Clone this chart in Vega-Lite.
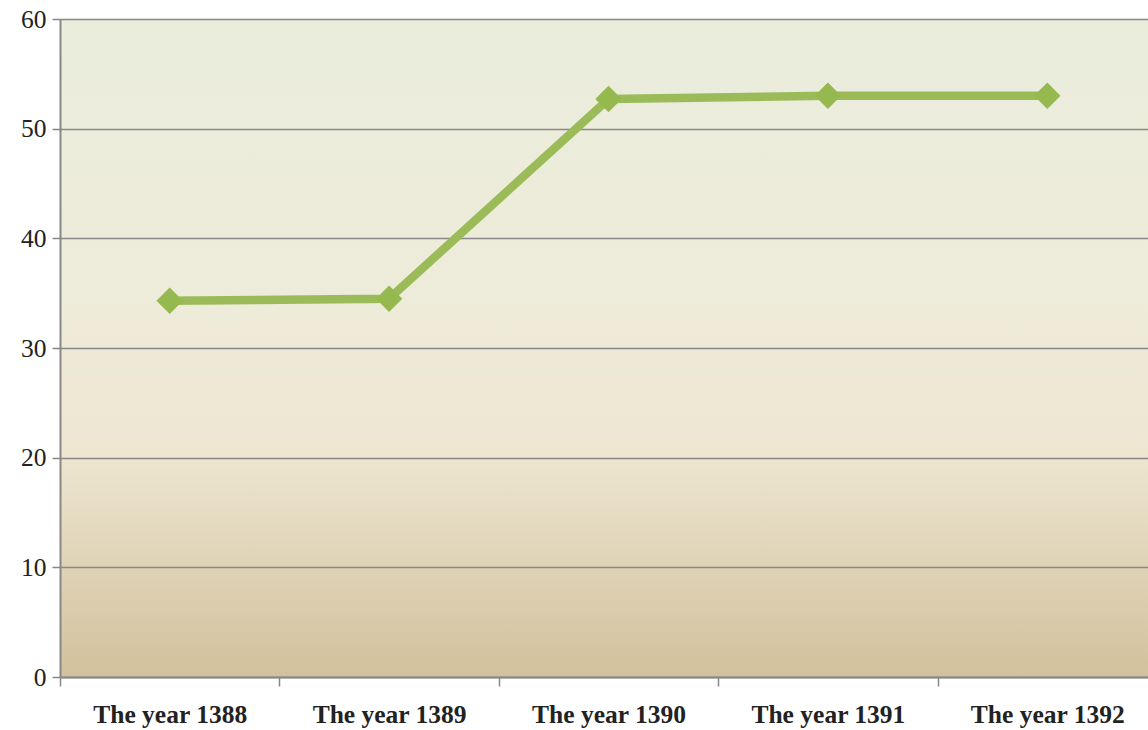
{
  "$schema": "https://vega.github.io/schema/vega-lite/v6.json",
  "width": 1097,
  "height": 658,
  "autosize": {"type": "none"},
  "padding": {"left": 60, "top": 19, "right": 0, "bottom": 53},
  "background": "white",
  "config": {
    "view": {
      "stroke": null,
      "fill": {
        "gradient": "linear",
        "x1": 0, "y1": 0, "x2": 0, "y2": 1,
        "stops": [
          {"offset": 0, "color": "#EAEDDC"},
          {"offset": 0.45, "color": "#EEEBD9"},
          {"offset": 0.66, "color": "#EEE6D1"},
          {"offset": 1, "color": "#D1C19C"}
        ]
      }
    },
    "axis": {
      "labelFont": "Liberation Serif",
      "labelColor": "#222222",
      "domainColor": "#878787",
      "tickColor": "#878787",
      "gridColor": "#878787",
      "domainWidth": 2,
      "tickWidth": 1.5,
      "gridWidth": 1.5
    }
  },
  "data": {
    "values": [
      {"year": "The year 1388", "value": 34.3},
      {"year": "The year 1389", "value": 34.5},
      {"year": "The year 1390", "value": 52.7},
      {"year": "The year 1391", "value": 53.0},
      {"year": "The year 1392", "value": 53.0}
    ]
  },
  "encoding": {
    "x": {
      "field": "year",
      "type": "nominal",
      "sort": null,
      "scale": {"paddingInner": 0, "paddingOuter": 0},
      "axis": {
        "title": null,
        "labelAngle": 0,
        "labelFontSize": 25.5,
        "labelFontWeight": "bold",
        "labelPadding": 16,
        "tickSize": 9,
        "tickBand": "extent",
        "grid": false
      }
    },
    "y": {
      "field": "value",
      "type": "quantitative",
      "scale": {"domain": [0, 60], "nice": false},
      "axis": {
        "title": null,
        "values": [0, 10, 20, 30, 40, 50, 60],
        "labelFontSize": 25.5,
        "labelPadding": 6,
        "tickSize": 8,
        "grid": true
      }
    }
  },
  "layer": [
    {
      "mark": {"type": "line", "color": "#9BBB59", "strokeWidth": 8.5, "strokeCap": "round", "strokeJoin": "round"}
    },
    {
      "mark": {"type": "point", "shape": "diamond", "filled": true, "color": "#96B94F", "size": 700, "opacity": 1}
    }
  ]
}
